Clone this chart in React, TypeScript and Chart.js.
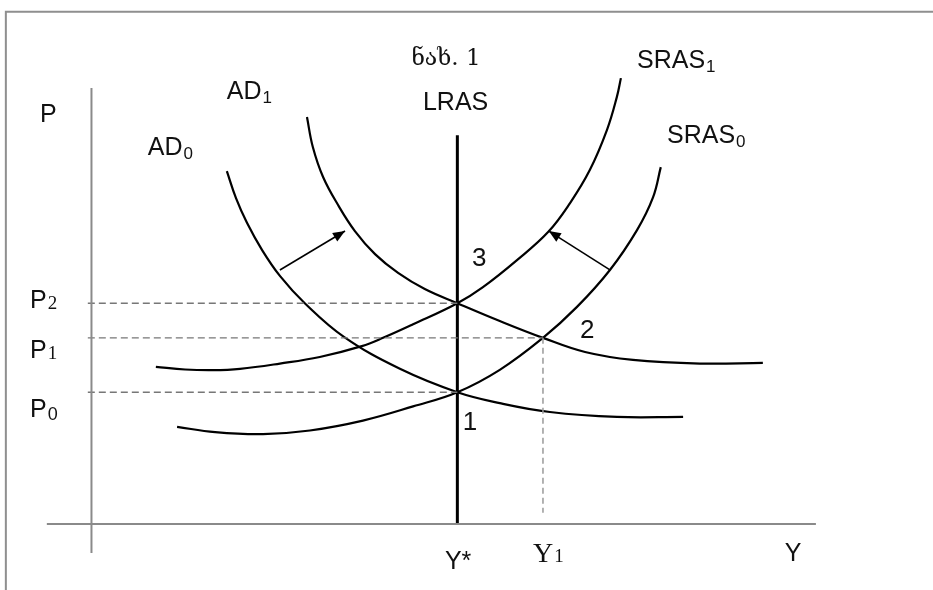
import React, { useEffect, useRef } from "react";
import { Chart, registerables } from "chart.js";

Chart.register(...registerables);

// ---- Data (output Y on x, price level P on y) ----
const priceLevels = [40, 56.5, 67]; // P0, P1, P2
const naturalOutput = 100; // Y*
const shortRunOutput = 123.4; // Y1

const ad0Output = [37.0, 39.5, 42.5, 46.6, 51.5, 58.3, 69.0, 84.3, 100, 111.6, 125.3, 143.6, 161.7];
const ad0Price = [107.1, 98.9, 91.4, 83.2, 75.3, 67.0, 56.8, 47.1, 40, 36.7, 34.0, 32.5, 32.5];

const ad1Output = [58.9, 60.5, 63.3, 67.4, 72.0, 77.5, 83.8, 91.1, 100, 111.6, 123.4, 134.9, 148.0, 166.3, 183.5];
const ad1Price = [123.5, 114.4, 105.3, 96.8, 88.9, 81.9, 76.2, 71.3, 67, 61.6, 56.5, 52.2, 49.8, 48.7, 48.9];

const sras0Output = [23.4, 33.8, 46.9, 59.7, 74.2, 87.9, 100, 111.6, 123.4, 132.7, 141.7, 149.1, 153.5, 155.6];
const sras0Price = [29.5, 27.9, 27.3, 28.4, 31.4, 35.7, 40, 46.8, 56.5, 65.9, 77.1, 89.2, 99.2, 108.3];

const sras1Output = [17.6, 25.6, 33.2, 40.6, 51.5, 62.4, 73.9, 79.7, 87.9, 100, 107.0, 116.3, 124.8, 130.8, 136.2, 140.9, 143.6, 144.7];
const sras1Price = [47.7, 46.9, 46.7, 47.1, 48.7, 50.7, 54.0, 56.5, 60.6, 67, 71.9, 80.1, 88.6, 97.4, 107.4, 119.6, 129.6, 135.3];

const lrasTop = 118;
const y1GuideBottom = 3.4;
const guideStart = -1;

const adArrowOutput = [51.5, 69.3];
const adArrowPrice = [77.1, 88.9];
const srasArrowOutput = [141.7, 125.0];
const srasArrowPrice = [77.1, 88.9];

const xAxisSpan = [-12.2, 198.0];
const yAxisSpan = [-8.8, 132.3];
const frameLeft = -23.4;
const frameTop = 155.4;

const toPoints = (xs: number[], ys: number[]) => xs.map((x, i) => ({ x, y: ys[i] }));

type Label = {
  text: string;
  sub?: string;
  x: number;
  y: number;
  font: string;
  subFont?: string;
  subDy?: number;
  align?: CanvasTextAlign;
};

const SANS = '"Liberation Sans", Arial, sans-serif';
const SERIF = '"Liberation Serif", "DejaVu Serif", serif';

const labels: Label[] = [
  { text: "ნახ. 1", x: 96.9, y: 139.3, font: `23px "DejaVu Serif", serif`, align: "center" },
  { text: "LRAS", x: 90.6, y: 125.6, font: `25px ${SANS}` },
  { text: "SRAS", sub: "1", x: 149.1, y: 138.4, font: `25px ${SANS}`, subFont: `17px ${SANS}`, subDy: 4 },
  { text: "SRAS", sub: "0", x: 157.3, y: 115.6, font: `25px ${SANS}`, subFont: `17px ${SANS}`, subDy: 4 },
  { text: "AD", sub: "1", x: 37.0, y: 129.0, font: `25px ${SANS}`, subFont: `17px ${SANS}`, subDy: 4 },
  { text: "AD", sub: "0", x: 15.4, y: 112.0, font: `25px ${SANS}`, subFont: `17px ${SANS}`, subDy: 4 },
  { text: "P", x: -14.1, y: 122.0, font: `25px ${SANS}` },
  { text: "P", sub: "2", x: -16.8, y: 65.6, font: `25px ${SANS}`, subFont: `19px ${SERIF}`, subDy: 1 },
  { text: "P", sub: "1", x: -16.8, y: 50.4, font: `25px ${SANS}`, subFont: `19px ${SERIF}`, subDy: 1 },
  { text: "P", sub: "0", x: -16.8, y: 32.5, font: `25px ${SANS}`, subFont: `18px ${SANS}`, subDy: 3 },
  { text: "Y*", x: 96.6, y: -13.6, font: `25px ${SANS}` },
  { text: "Y", sub: "1", x: 120.7, y: -11.5, font: `28px ${SERIF}`, subFont: `19px ${SERIF}`, subDy: 0 },
  { text: "Y", x: 189.5, y: -11.2, font: `25px ${SANS}` },
  { text: "3", x: 104.0, y: 78.3, font: `26px ${SANS}` },
  { text: "2", x: 133.5, y: 56.5, font: `26px ${SANS}` },
  { text: "1", x: 101.5, y: 28.5, font: `26px ${SANS}` },
];

const labelPlugin = {
  id: "econLabels",
  afterDraw(chart: any) {
    const ctx = chart.ctx as CanvasRenderingContext2D;
    const xs = chart.scales.x;
    const ys = chart.scales.y;
    ctx.save();
    ctx.fillStyle = "#111";
    ctx.textBaseline = "alphabetic";
    for (const l of labels) {
      const px = xs.getPixelForValue(l.x);
      const py = ys.getPixelForValue(l.y);
      ctx.font = l.font;
      ctx.textAlign = l.align || "left";
      ctx.fillText(l.text, px, py);
      if (l.sub) {
        const w = ctx.measureText(l.text).width;
        ctx.font = l.subFont || l.font;
        ctx.textAlign = "left";
        ctx.fillText(l.sub, px + w + 1, py + (l.subDy || 0));
      }
    }
    ctx.restore();
  },
};

const arrowPlugin = {
  id: "arrowHeads",
  afterDatasetsDraw(chart: any) {
    const ctx = chart.ctx as CanvasRenderingContext2D;
    chart.data.datasets.forEach((ds: any, i: number) => {
      if (!ds.arrow) return;
      const pts = chart.getDatasetMeta(i).data;
      const a = pts[pts.length - 2];
      const b = pts[pts.length - 1];
      const ang = Math.atan2(b.y - a.y, b.x - a.x);
      const len = 12;
      const w = 5;
      ctx.save();
      ctx.fillStyle = "#000";
      ctx.beginPath();
      ctx.moveTo(b.x, b.y);
      ctx.lineTo(b.x - len * Math.cos(ang) + w * Math.sin(ang), b.y - len * Math.sin(ang) - w * Math.cos(ang));
      ctx.lineTo(b.x - len * Math.cos(ang) - w * Math.sin(ang), b.y - len * Math.sin(ang) + w * Math.cos(ang));
      ctx.closePath();
      ctx.fill();
      ctx.restore();
    });
  },
};

export default function App() {
  const ref = useRef<HTMLCanvasElement | null>(null);

  useEffect(() => {
    if (!ref.current) return;
    const curve = (xs: number[], ys: number[]) => ({
      data: toPoints(xs, ys),
      showLine: true,
      borderColor: "#000",
      borderWidth: 2.2,
      pointRadius: 0,
      tension: 0.4,
    });
    const straight = (pts: { x: number; y: number }[], color: string, width: number, dash: number[] = []) => ({
      data: pts,
      showLine: true,
      borderColor: color,
      borderWidth: width,
      borderDash: dash,
      pointRadius: 0,
      tension: 0,
    });
    const grayAxis = "#8a8a8a";
    const dashGray = "#777";
    const dash = [7, 4];

    const datasets: any[] = [
      // frame
      straight([{ x: frameLeft, y: -20 }, { x: frameLeft, y: frameTop }, { x: 230, y: frameTop }], "#8f8f8f", 2),
      // axes
      straight([{ x: 0, y: yAxisSpan[0] }, { x: 0, y: yAxisSpan[1] }], grayAxis, 2),
      straight([{ x: xAxisSpan[0], y: 0 }, { x: xAxisSpan[1], y: 0 }], grayAxis, 2),
      // guides
      straight([{ x: guideStart, y: priceLevels[2] }, { x: naturalOutput, y: priceLevels[2] }], dashGray, 1.3, dash),
      straight([{ x: guideStart, y: priceLevels[1] }, { x: shortRunOutput, y: priceLevels[1] }], dashGray, 1.3, dash),
      straight([{ x: guideStart, y: priceLevels[0] }, { x: naturalOutput, y: priceLevels[0] }], dashGray, 1.3, dash),
      straight([{ x: shortRunOutput, y: priceLevels[1] }, { x: shortRunOutput, y: y1GuideBottom }], "#999", 1.5, [6, 4]),
      // LRAS
      straight([{ x: naturalOutput, y: 0 }, { x: naturalOutput, y: lrasTop }], "#000", 3),
      // curves
      curve(ad0Output, ad0Price),
      curve(ad1Output, ad1Price),
      curve(sras0Output, sras0Price),
      curve(sras1Output, sras1Price),
      // arrows
      { ...straight(toPoints(adArrowOutput, adArrowPrice), "#000", 1.6), arrow: true },
      { ...straight(toPoints(srasArrowOutput, srasArrowPrice), "#000", 1.6), arrow: true },
    ];

    const chart = new Chart(ref.current, {
      type: "scatter",
      data: { datasets },
      options: {
        responsive: false,
        maintainAspectRatio: false,
        animation: false,
        layout: { padding: 0 },
        plugins: { legend: { display: false }, tooltip: { enabled: false }, title: { display: false } },
        scales: {
          x: { type: "linear", min: -25, max: 230, display: false },
          y: { type: "linear", min: -20, max: 159, display: false },
        },
      },
      plugins: [arrowPlugin, labelPlugin],
    });
    return () => chart.destroy();
  }, []);

  return (
    <div style={{ position: "absolute", left: 0, top: 0, width: 933, height: 590, background: "#fff" }}>
      <canvas ref={ref} width={933} height={590} style={{ display: "block" }} />
    </div>
  );
}
